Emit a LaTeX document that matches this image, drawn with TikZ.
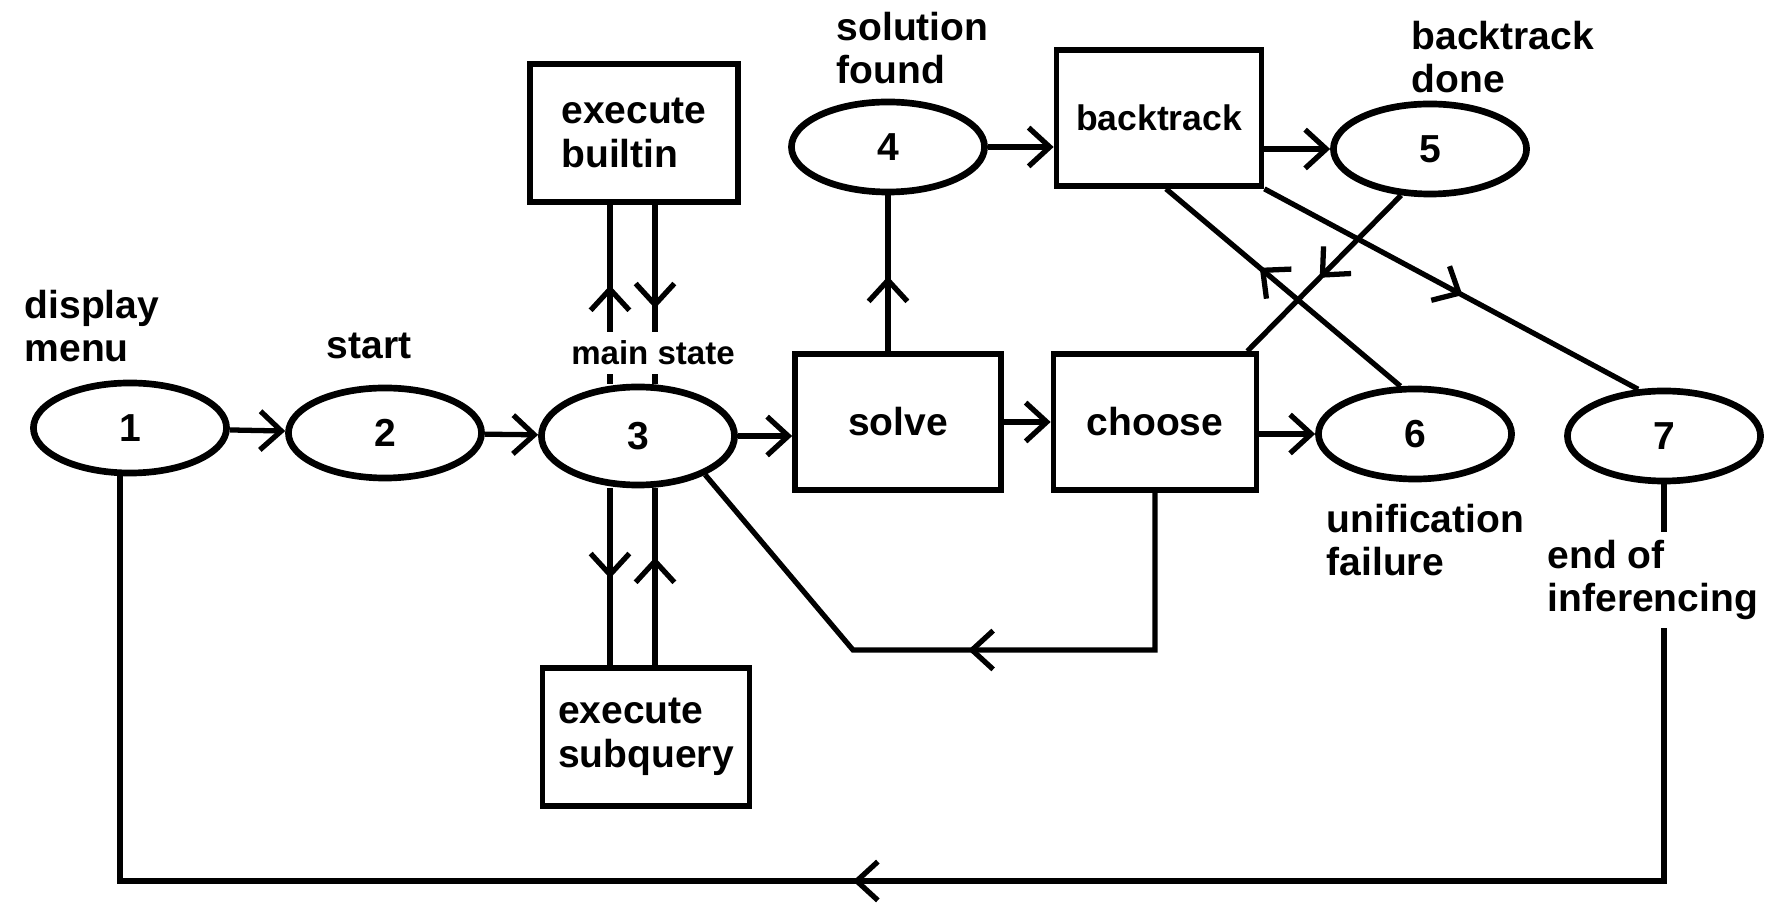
\documentclass[tikz,border=0pt]{standalone}
\usepackage{fontspec}
\setmainfont{Liberation Sans}
\usetikzlibrary{shapes.geometric,arrows.meta,decorations.markings}

\begin{document}
\begin{tikzpicture}[x=0.01cm, y=-0.01cm, line width=1.5pt,
        >={Straight Barb[length=6pt,width=11pt]},
        every node/.style={font=\bfseries\fontsize{11.1pt}{12.4pt}\selectfont},
        stateell/.style={draw, ellipse, line width=1.9pt, minimum width=1.93cm, minimum height=0.9cm, inner sep=0pt},
        procbox/.style={draw, rectangle, line width=1.6pt, minimum width=2.06cm, minimum height=1.36cm, inner sep=0pt, align=left},
        lbl/.style={align=left, inner sep=0pt},
        midarrow/.style={postaction={decorate, decoration={markings, mark=at position #1 with {\arrow{>}}}}}]
                \useasboundingbox (0,0) rectangle (1767,910);

                \node[stateell] (s1) at (130,428) {1};
                \node[stateell] (s2) at (385,433) {2};
                \node[stateell, minimum height=0.98cm] (s3) at (638,436) {3};
                \node[stateell] (s4) at (888,147) {4};
                \node[stateell] (s5) at (1430,149) {5};
                \node[stateell] (s6) at (1415,434) {6};
                \node[stateell] (s7) at (1664,436) {7};

                \node[procbox] (solve) at (898,422) {solve};
                \node[procbox, minimum width=2.03cm] (choose) at (1155,422) {choose};
                \node[procbox, minimum width=2.05cm, font=\bfseries\fontsize{10.1pt}{12pt}\selectfont] (backtrack) at (1159,118) {backtrack};
                \node[procbox, minimum width=2.08cm, minimum height=1.38cm] (builtin) at (634,133) {execute\\builtin};
                \node[procbox, minimum width=2.07cm, minimum height=1.38cm] (subquery) at (646,737) {execute\\subquery};

                \coordinate (up1) at (610,0);
                \coordinate (up2) at (655,0);
                \coordinate (ret) at (853,650);
                \coordinate (loopy) at (0,881);
                \coordinate (loopx) at (120,0);

                \draw[->] (s1) -- (s2);
                \draw[->] (s2) -- (s3);
                \draw[->] (s3) -- (solve.west |- s3);
                \draw[->] (solve) -- (choose);
                \draw[->] (choose.east |- s6) -- (s6);
                \draw[->] (s4) -- (backtrack.west |- s4);
                \draw[->] (backtrack.east |- s5) -- (s5);

                \draw[midarrow=0.55] (s3.north -| up1) -- (builtin.south -| up1);
                \draw[midarrow=0.58] (builtin.south -| up2) -- (s3.north -| up2);
                \draw[midarrow=0.51] (s3.south -| up1) -- (subquery.north -| up1);
                \draw[midarrow=0.61] (subquery.north -| up2) -- (s3.south -| up2);

                \draw[midarrow=0.48] (solve.north -| s4) -- (s4);
                \draw[midarrow=0.53] (s5.238) -- ([xshift=-0.12cm]choose.north east);
                \draw[midarrow=0.6] (s6.107) -- ([xshift=0.07cm]backtrack.south);
                \draw[midarrow=0.53] (backtrack.south east) -- (s7.119);
                \draw[midarrow=0.5] (choose.south) -- (choose.south |- ret) -- (ret) -- (s3.-30);
                \draw[midarrow=0.515] (s7) -- (s7 |- loopy) -- (loopx |- loopy) -- (s1.south -| loopx);

                \node[lbl, anchor=west] (dmenu) at (22,326) {display\\menu};
                \node[lbl] (start) at (369,346) {start};
                \node[lbl, fill=white, inner ysep=0.09cm, font=\bfseries\fontsize{9.4pt}{11pt}\selectfont] (mainst) at (653,353) {main state};
                \node[lbl, anchor=west] (solfound) at (834,48) {solution\\found};
                \node[lbl, anchor=west] (btdone) at (1409,57) {backtrack\\done};
                \node[lbl, anchor=west] (unifail) at (1324,540) {unification\\failure};
                \node[lbl, anchor=west, fill=white, inner ysep=0.08cm] (endinf) at (1545,580) {end of\\inferencing};
            \end{tikzpicture}
\end{document}
